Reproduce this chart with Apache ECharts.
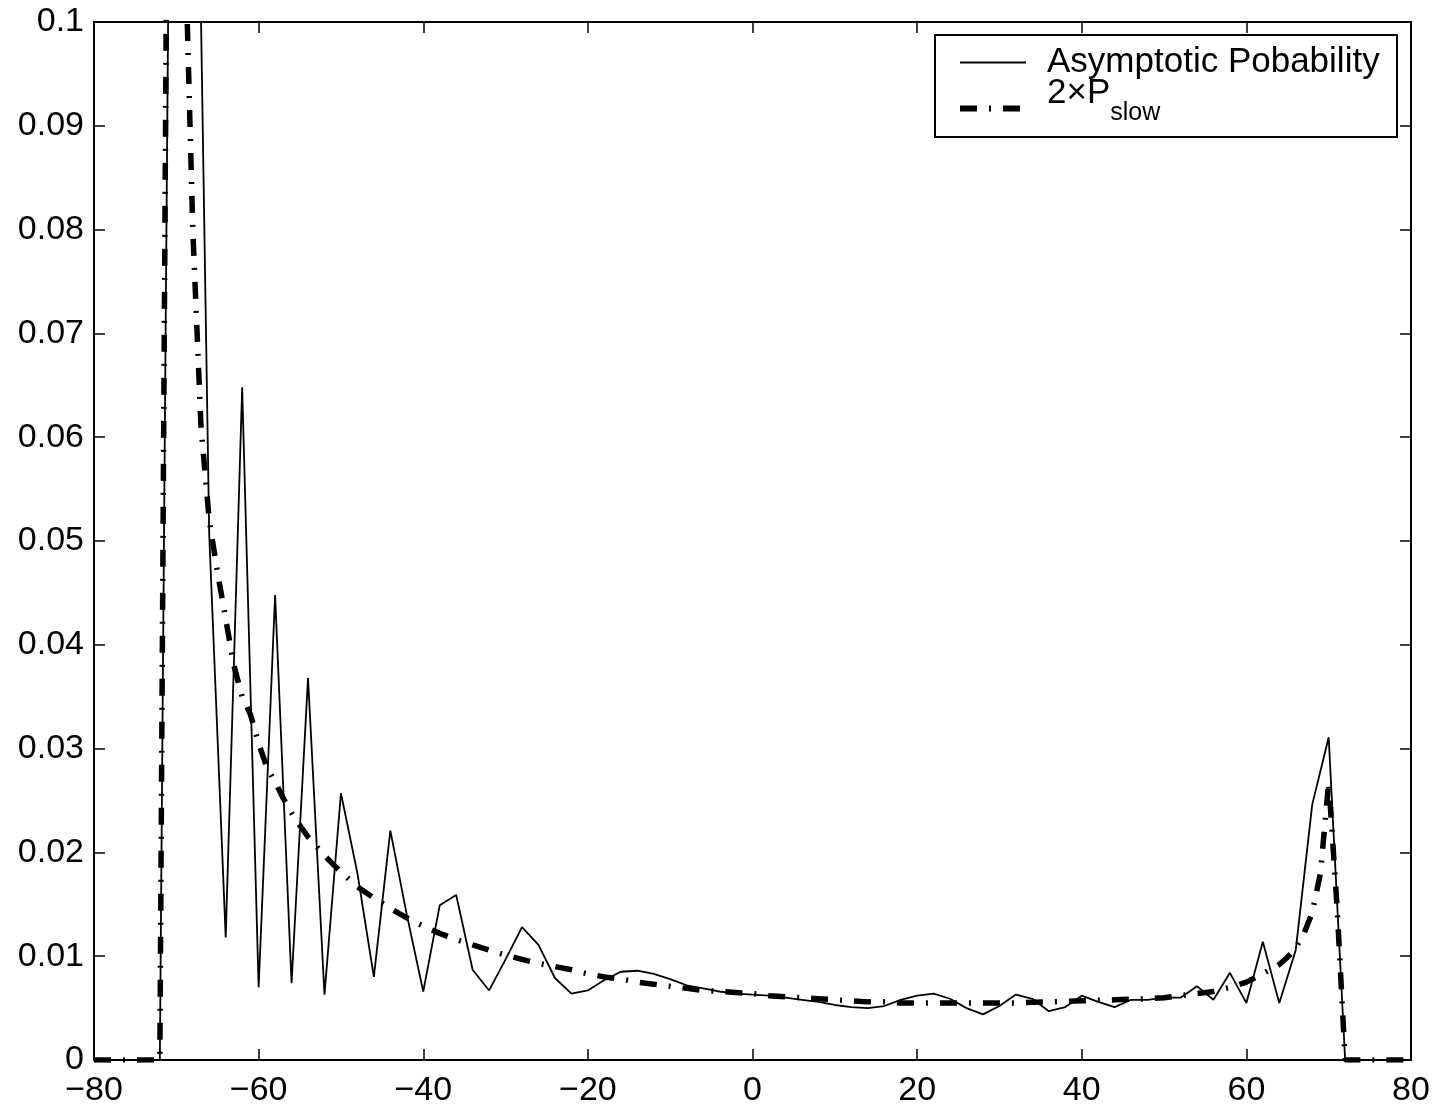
<!DOCTYPE html>
<html><head><meta charset="utf-8">
<script src="https://cdn.jsdelivr.net/npm/echarts@6/dist/echarts.min.js"></script>
<style>html,body{margin:0;padding:0;background:#fff}#c{width:1437px;height:1108px}</style>
</head><body><div id="c"></div>
<script>
const xAsym = [-80,-78,-76,-74,-72,-70,-68,-66,-64,-62,-60,-58,-56,-54,-52,-50,-48,-46,-44,-42,-40,-38,-36,-34,-32,-30,-28,-26,-24,-22,-20,-18,-16,-14,-12,-10,-8,-6,-4,-2,0,2,4,6,8,10,12,14,16,18,20,22,24,26,28,30,32,34,36,38,40,42,44,46,48,50,52,54,56,58,60,62,64,66,68,70,72,74,76,78,80];
const yAsym = [0,0,0,0,0,0.2,0.15,0.0506,0.0118,0.0648,0.0070,0.0448,0.0074,0.0368,0.0063,0.0257,0.018,0.0080,0.0221,0.0140,0.0066,0.0149,0.0159,0.0087,0.0067,0.0097,0.0128,0.0111,0.0079,0.0064,0.0067,0.0077,0.0085,0.0086,0.0083,0.0078,0.0072,0.0069,0.0066,0.0064,0.0063,0.0062,0.0060,0.0058,0.0056,0.0053,0.0051,0.0050,0.0052,0.0058,0.0062,0.0064,0.0059,0.0050,0.0044,0.0052,0.0063,0.0059,0.0047,0.0051,0.0062,0.0056,0.0051,0.0058,0.0058,0.0060,0.0060,0.0071,0.0058,0.0084,0.0055,0.0114,0.0055,0.0106,0.0246,0.0311,0,0,0,0,0];
const xSlow = [-80,-76,-72,-71,-70,-69,-68,-67,-66,-65,-64,-63,-62,-61,-60,-59,-58,-57,-56,-55,-54,-53,-52,-51,-50,-48,-46,-44,-42,-40,-38,-36,-34,-32,-30,-28,-26,-24,-22,-20,-18,-16,-14,-12,-10,-8,-6,-4,-2,0,2,4,6,8,10,12,14,16,18,20,24,28,32,36,40,44,48,50,52,54,56,58,60,62,64,65,66,67,68,69,70,71,72,76,80];
const ySlow = [0,0,0,0.13,0.2,0.11,0.08,0.061,0.052,0.047,0.0425,0.038,0.035,0.0333,0.0305,0.0282,0.0268,0.0252,0.0238,0.0226,0.0215,0.0206,0.0197,0.0189,0.0181,0.0167,0.0156,0.0146,0.0137,0.0129,0.0122,0.0116,0.0111,0.0106,0.0101,0.0097,0.0093,0.0090,0.0087,0.0083,0.0080,0.0078,0.0075,0.0073,0.0071,0.0069,0.0067,0.0066,0.0065,0.0064,0.0062,0.0061,0.0060,0.0059,0.0058,0.0057,0.0056,0.0056,0.0055,0.0055,0.0055,0.0055,0.0055,0.0056,0.0057,0.0058,0.0059,0.0060,0.0062,0.0064,0.0066,0.0070,0.0075,0.0083,0.0092,0.0099,0.0108,0.0122,0.0142,0.0180,0.0268,0.0150,0,0,0];
const seriesNames = ['Asymptotic Pobability', '2xPslow'];

const FONT = '"Liberation Sans", Arial, sans-serif';
const chart = echarts.init(document.getElementById('c'), null, {renderer: 'canvas'});
const xLab = v => (v < 0 ? '\u2212' + Math.abs(v) : String(v));
const yLab = v => String(parseFloat(v.toFixed(2)));
const axisCommon = {
  axisLine: {show: true, onZero: false, lineStyle: {color: '#000', width: 2}},
  axisTick: {show: true, inside: true, length: 11, lineStyle: {color: '#000', width: 1.5}},
  splitLine: {show: false}
};
const DASH = [17, 12, 2, 12];
chart.setOption({
  animation: false,
  backgroundColor: '#fff',
  color: ['#000', '#000'],
  grid: {left: 94, right: 26, top: 22, bottom: 48, show: false},
  graphic: [{
    type: 'rect', z: 3, silent: true,
    shape: {x: 935, y: 35, width: 462, height: 102},
    style: {fill: '#fff', stroke: '#000', lineWidth: 2}
  }],
  legend: {
    show: true, orient: 'vertical', left: 935, top: 35, z: 4,
    padding: [10, 16, 0, 22], itemGap: -4, itemWidth: 66, itemHeight: 30,
    itemStyle: {opacity: 0},
    data: [
      {name: seriesNames[0], itemStyle: {opacity: 0}, lineStyle: {width: 1.8, color: '#000'}},
      {name: seriesNames[1], itemStyle: {opacity: 0}, lineStyle: {width: 6, color: '#000', type: DASH}}
    ],
    formatter: n => (n === seriesNames[1] ? '{main|2\u00d7P}{sub|slow}' : n),
    textStyle: {
      fontFamily: FONT, fontSize: 35, color: '#000', padding: [0, 0, 0, 16],
      rich: {
        main: {fontFamily: FONT, fontSize: 35, color: '#000', verticalAlign: 'top', lineHeight: 35},
        sub: {fontFamily: FONT, fontSize: 25, color: '#000', verticalAlign: 'top', padding: [25, 0, 15, 0]}
      }
    }
  },
  xAxis: [
    Object.assign({type: 'value', min: -80, max: 80, interval: 20, position: 'bottom',
      axisLabel: {formatter: xLab, fontFamily: FONT, fontSize: 34, color: '#000', margin: 14}}, axisCommon),
    Object.assign({type: 'value', min: -80, max: 80, interval: 20, position: 'top',
      axisLabel: {show: false}}, axisCommon)
  ],
  yAxis: [
    Object.assign({type: 'value', min: 0, max: 0.1, interval: 0.01, position: 'left',
      axisLabel: {formatter: yLab, fontFamily: FONT, fontSize: 34, color: '#000', margin: 10}}, axisCommon),
    Object.assign({type: 'value', min: 0, max: 0.1, interval: 0.01, position: 'right',
      axisLabel: {show: false}}, axisCommon)
  ],
  series: [
    {name: seriesNames[0], type: 'line', showSymbol: false, symbol: 'none', clip: true,
     itemStyle: {color: '#000'},
     lineStyle: {color: '#000', width: 1.8},
     data: xAsym.map((x, i) => [x, yAsym[i]])},
    {name: seriesNames[1], type: 'line', showSymbol: false, symbol: 'none', clip: true,
     itemStyle: {color: '#000'},
     lineStyle: {color: '#000', width: 5.5, type: DASH, cap: 'butt'},
     data: xSlow.map((x, i) => [x, ySlow[i]])}
  ]
});
</script></body></html>
